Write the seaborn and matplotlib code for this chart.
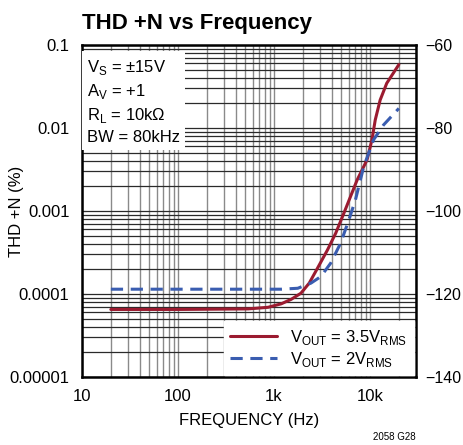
import pandas as pd
import seaborn as sns
import matplotlib.pyplot as plt
from matplotlib.ticker import LogLocator, FixedLocator, NullFormatter

# values (THD+N in %)
freq_35 = [20, 100, 540, 867, 1190, 1510, 1910, 2330, 2840, 3610, 4390, 5350, 7350,
           9310, 10490, 11350, 12770, 14960, 20000]
thd_35 = [6.5e-5, 6.5e-5, 6.6e-5, 6.9e-5, 7.6e-5, 8.6e-5, 1.02e-4, 1.35e-4, 2.04e-4, 3.39e-4,
          5.37e-4, 9.4e-4, 2.36e-3, 4.11e-3, 7.2e-3, 1.25e-2, 2.17e-2, 3.46e-2, 5.8e-2]

freq_2 = [20, 100, 540, 1190, 1770, 2430, 3080, 3900, 4940, 6030, 7060, 8610, 10910,
          13840, 20000]
thd_2 = [1.14e-4, 1.14e-4, 1.14e-4, 1.14e-4, 1.17e-4, 1.35e-4, 1.62e-4, 2.35e-4, 4.08e-4,
         7.8e-4, 1.36e-3, 3.42e-3, 7.2e-3, 1.086e-2, 1.72e-2]

y_ticks = [0.1, 0.01, 0.001, 0.0001, 0.00001]
y_labels = ['0.1', '0.01', '0.001', '0.0001', '0.00001']
x_ticks = [10, 100, 1000, 10000]
x_labels = ['10', '100', '1k', '10k']
db_ticks = [-60, -80, -100, -120, -140]

sns.set_style('white')
fonts = ['Liberation Sans', 'DejaVu Sans']
plt.rcParams['font.family'] = fonts
plt.rcParams['mathtext.fontset'] = 'custom'
plt.rcParams['mathtext.rm'] = fonts[0]
# plain black text like the datasheet
for key in ['text.color', 'axes.labelcolor', 'xtick.labelcolor', 'ytick.labelcolor']:
    plt.rcParams[key] = 'black'

df35 = pd.DataFrame({'freq': freq_35, 'thd': thd_35})
df2 = pd.DataFrame({'freq': freq_2, 'thd': thd_2})

fig = plt.figure(figsize=(4.63, 4.45), dpi=100)
ax = fig.add_axes([0.177, 0.153, 0.721, 0.746])

sns.lineplot(data=df35, x='freq', y='thd', ax=ax, color='#9b1b30', lw=2.2,
             label=r'V$_{\mathrm{OUT}}$ = 3.5V$_{\mathrm{RMS}}$')
sns.lineplot(data=df2, x='freq', y='thd', ax=ax, color='#3a5db0', lw=2.2,
             linestyle=(0, (4, 2.5)), label=r'V$_{\mathrm{OUT}}$ = 2V$_{\mathrm{RMS}}$')

ax.set_xscale('log')
ax.set_yscale('log')
ax.set_xlim(10, 30000)
ax.set_ylim(1e-5, 0.1)

ax.xaxis.set_major_locator(FixedLocator(x_ticks))
ax.set_xticklabels(x_labels)
ax.xaxis.set_minor_locator(LogLocator(base=10, subs=range(2, 10)))
ax.xaxis.set_minor_formatter(NullFormatter())
ax.yaxis.set_major_locator(FixedLocator(y_ticks))
ax.set_yticklabels(y_labels)
ax.yaxis.set_minor_locator(LogLocator(base=10, subs=range(2, 10)))
ax.yaxis.set_minor_formatter(NullFormatter())

ax.grid(True, which='both', axis='x', color='#8a8a8a', lw=1.0)
ax.grid(True, which='both', axis='y', color='#2a2a2a', lw=0.9)
ax.set_axisbelow(True)
ax.tick_params(axis='both', which='both', direction='in', labelsize=12, length=3,
               color='#303030', labelcolor='black')
ax.tick_params(axis='x', pad=9)
ax.tick_params(axis='y', pad=9)
for s in ax.spines.values():
    s.set_linewidth(1.8)
    s.set_color('black')

ax.set_xlabel('FREQUENCY (Hz)', fontsize=12, labelpad=6, color='black')
ax.set_ylabel('THD +N (%)', fontsize=12, color='black')
ax.yaxis.set_label_coords(-0.175, 0.5)
fig.text(0.178, 0.935, 'THD +N vs Frequency', fontsize=16, fontweight='bold', ha='left',
         color='black')

# right-hand dB scale
ax2 = ax.twinx()
ax2.set_ylim(-140, -60)
ax2.yaxis.set_major_locator(FixedLocator(db_ticks))
ax2.set_yticklabels(['\u2212' + str(-t) for t in db_ticks])
ax2.tick_params(axis='y', direction='in', length=0, labelsize=11.5, pad=7, labelcolor='black')
for s in ax2.spines.values():
    s.set_visible(False)

cond = ('V$_{\\mathrm{S}}$ = \u00b115V\nA$_{\\mathrm{V}}$ = +1\n'
        'R$_{\\mathrm{L}}$ = 10k\u03a9\nBW = 80kHz')
ax.text(0.014, 0.962, cond, transform=ax.transAxes, fontsize=12, va='top', ha='left',
        linespacing=1.38, zorder=5, color='black',
        bbox=dict(facecolor='white', edgecolor='none', boxstyle='square,pad=0.3'))

leg = ax.legend(loc='lower right', fontsize=12, frameon=True, fancybox=False,
                borderaxespad=0.1, handlelength=2.8, labelspacing=0.15)
leg.get_frame().set_edgecolor('white')
leg.get_frame().set_alpha(1)
for t in leg.get_texts():
    t.set_color('black')

fig.text(0.897, 0.012, '2058 G28', fontsize=7, ha='right', color='black')

fig.savefig('out.png', dpi=100)
